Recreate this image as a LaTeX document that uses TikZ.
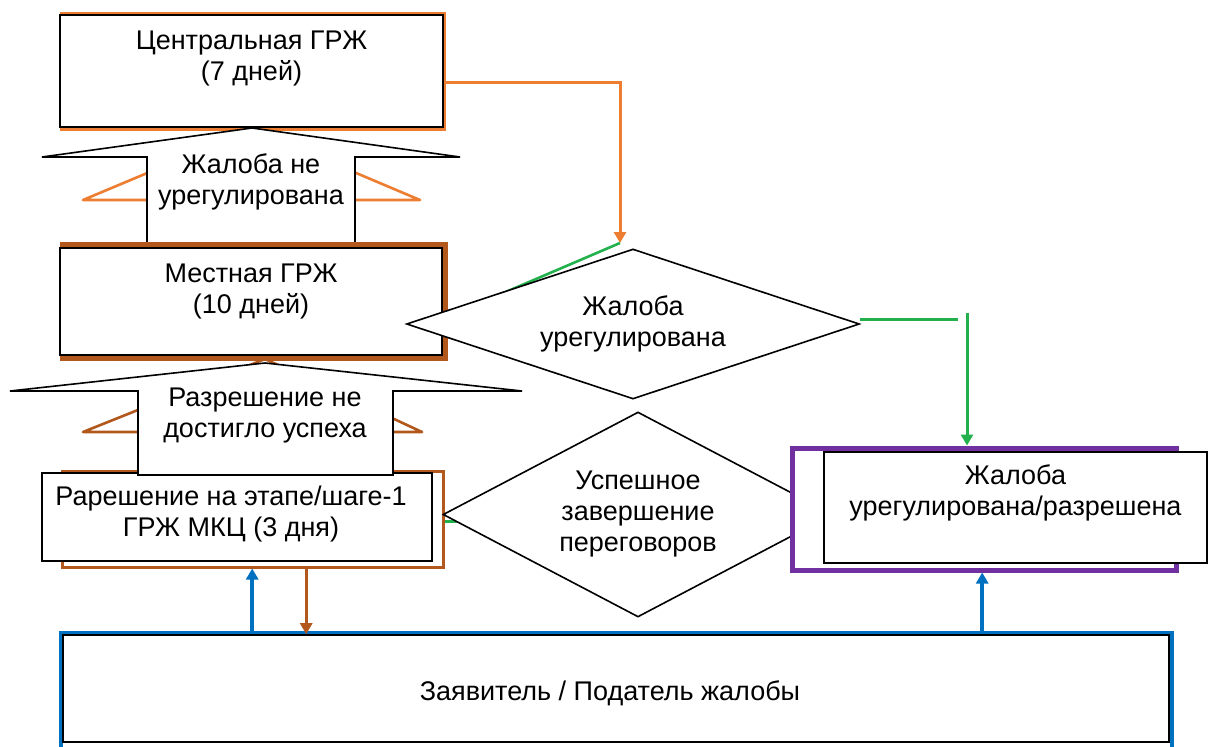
\documentclass[tikz,border=0pt]{standalone}
\usepackage{fontspec}
\setmainfont{Liberation Sans}
\usetikzlibrary{shapes.geometric,arrows.meta}
\definecolor{grzhorange}{RGB}{237,125,49}
\definecolor{grzhbrown}{RGB}{178,88,28}
\definecolor{grzhgreen}{RGB}{34,177,76}
\definecolor{grzhpurple}{RGB}{112,48,160}
\definecolor{grzhblue}{RGB}{0,112,192}
\tikzset{
  box/.style={draw=black, fill=white, line width=1.6pt, inner sep=0pt, align=center},
  back/.style={fill=white, inner sep=0pt},
  txt/.style={align=center, inner sep=0pt},
  decision/.style={diamond, draw=black, fill=white, line width=1.6pt, inner sep=0pt, align=center},
  callout/.style={draw=black, fill=white, line width=1.6pt, line join=miter},
  link/.style={line width=3pt, -{Triangle[width=12pt,length=11pt]}},
}

\begin{document}
\begin{tikzpicture}[x=1pt, y=-1pt, font=\fontsize{27}{31}\selectfont]
            \clip (0,0) rectangle (1208,747);
            \fill[white] (0,0) rectangle (1208,747);
            % Центральная ГРЖ
            \node[back, draw=grzhorange, line width=3pt, minimum width=383pt, minimum height=116pt] (centralbg) at (252.5,71) {};
            \node[box, minimum width=383pt, minimum height=112pt] (central) at (251.5,71) {};
            \node[txt] (centraltext) at ([yshift=13pt]central.center) {Центральная ГРЖ\\(7 дней)};
            \coordinate (otip) at (620,243);
            \draw[link, grzhorange] ([yshift=-11pt]central.east) -| (otip);
            % Жалоба не урегулирована
            \draw[grzhorange, line width=2.6pt, line join=round] (83,200) -- (252,129) -- (420,200) -- cycle;
            \draw[callout] (147,243) -- (147,157) -- (42,157) -- (252,128) -- (460,157) -- (355,157) -- (355,243) -- cycle;
            \node[txt] (esc1) at (251,182) {Жалоба не\\урегулирована};
            % Местная ГРЖ
            \draw[grzhgreen, line width=2.6pt] (otip) -- (445,318);
            \node[back, draw=grzhbrown, line width=5pt, minimum width=383pt, minimum height=114pt] (localbg) at (253.5,301) {};
            \node[box, minimum width=382pt, minimum height=107pt] (local) at (251,301.5) {};
            \node[txt] (localtext) at ([yshift=10pt]local.center) {Местная ГРЖ\\(10 дней)};
            % Этап 1
            \draw[grzhgreen, line width=3pt] (443,521) -- (462,521);
            \node[back, draw=grzhbrown, line width=3pt, minimum width=381pt, minimum height=96pt] (stage1bg) at (252.5,519) {};
            \node[box, minimum width=390pt, minimum height=88pt] (stage1) at (237,517) {};
            \node[txt] (stage1text) at ([xshift=-6pt,yshift=3pt]stage1.center) {Рарешение на этапе/шаге-1\\ГРЖ МКЦ (3 дня)};
            % Разрешение не достигло успеха
            \draw[grzhbrown, line width=2.6pt, line join=round] (83,432) -- (265,359) -- (422,432) -- cycle;
            \draw[callout] (138,475) -- (138,391) -- (10,391) -- (265,363) -- (522,391) -- (393,391) -- (393,475) -- cycle;
            \node[txt] (esc2) at (265,416) {Разрешение не\\достигло успеха};
            % ромбы
            \node[decision, shape aspect=3, minimum width=453pt, minimum height=150pt] (d1) at (633,324) {Жалоба\\урегулирована};
            \node[decision, shape aspect=1.9, minimum width=390pt, minimum height=205pt] (d2) at (638,514.5) {Успешное\\завершение\\переговоров};
            % Жалоба урегулирована/разрешена
            \node[back, draw=grzhpurple, line width=5pt, minimum width=384pt, minimum height=122pt] (resolvedbg) at (984,509) {};
            \node[box, minimum width=383pt, minimum height=111pt] (resolved) at (1015.5,507.5) {};
            \node[txt] (resolvedtext) at ([yshift=15pt]resolved.center) {Жалоба\\урегулирована/разрешена};
            \draw[grzhgreen, line width=3pt] ([yshift=5pt]d1.east) -- ++(98,0);
            \coordinate (gtop) at (967,313);
            \draw[link, grzhgreen] (gtop) -- (gtop |- resolvedbg.north);
            % Заявитель
            \node[back, draw=grzhblue, line width=4pt, minimum width=1111pt, minimum height=134pt] (applicantbg) at (616.5,700) {};
            \node[box, minimum width=1106pt, minimum height=107pt] (applicant) at (616,688.5) {};
            \node[txt] (applicanttext) at ([xshift=-6pt,yshift=-5pt]applicant.center) {Заявитель / Податель жалобы};
            \coordinate (bl1) at ([xshift=190pt]applicant.north west);
            \coordinate (br1) at ([xshift=244pt]applicant.north west);
            \coordinate (bl2) at ([xshift=920pt]applicant.north west);
            \draw[link, grzhblue, line width=4.5pt] (bl1) -- (bl1 |- stage1bg.south);
            \draw[link, grzhbrown] (br1 |- stage1bg.south) -- (br1);
            \draw[link, grzhblue, line width=4.5pt] (bl2) -- (bl2 |- resolvedbg.south);
\end{tikzpicture}
\end{document}
